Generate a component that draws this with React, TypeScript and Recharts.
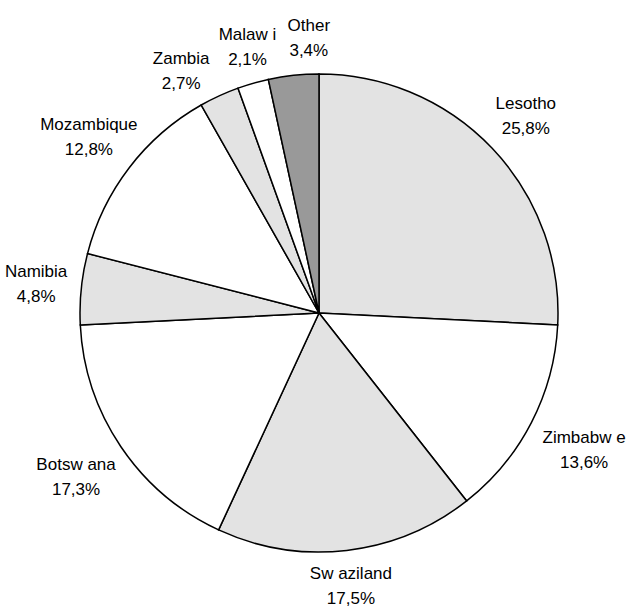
import { PieChart, Pie, Cell } from "recharts"

const countries = ["Lesotho", "Zimbabw e", "Sw aziland", "Botsw ana", "Namibia", "Mozambique", "Zambia", "Malaw i", "Other"]
const shares = [25.8, 13.6, 17.5, 17.3, 4.8, 12.8, 2.7, 2.1, 3.4]
const fills = ["#e3e3e3", "#ffffff", "#e3e3e3", "#ffffff", "#e3e3e3", "#ffffff", "#e3e3e3", "#ffffff", "#999999"]

const data = countries.map((name, i) => ({ name, value: shares[i] }))

const RAD = Math.PI / 180
const FONT = 17
const CX = 319
const CY = 313
const R = 239
const HALF_H = 23
const GAP = 6

const pct = (v: number) => v.toFixed(1).replace(".", ",") + "%"

// place label boxes just outside each slice, then nudge neighbours apart
function layoutLabels() {
  const total = shares.reduce((a, b) => a + b, 0)
  let acc = 0
  const items = shares.map((v, i) => {
    const theta = ((acc + v / 2) / total) * 360
    acc += v
    const hw = (Math.max(countries[i].length, pct(v).length) * FONT * 0.54) / 2
    return { theta, hw }
  })
  const place = (it: { theta: number; hw: number }) => {
    const dx = Math.sin(it.theta * RAD)
    const dy = -Math.cos(it.theta * RAD)
    const edge = Math.min(it.hw / Math.max(Math.abs(dx), 1e-6), HALF_H / Math.max(Math.abs(dy), 1e-6))
    const r = R + 13 + edge
    return { x: CX + r * dx, y: CY + r * dy, hw: it.hw }
  }
  for (let k = 0; k < 400; k++) {
    let moved = false
    for (let i = 0; i < items.length - 1; i++) {
      const a = place(items[i])
      const b = place(items[i + 1])
      if (Math.abs(a.x - b.x) < a.hw + b.hw + GAP && Math.abs(a.y - b.y) < 2 * HALF_H) {
        items[i].theta -= 0.25
        items[i + 1].theta += 0.25
        moved = true
      }
    }
    if (!moved) break
  }
  return items.map(place)
}

const labelPos = layoutLabels()

function renderLabel(props: any) {
  const { index, name, value } = props
  const { x, y } = labelPos[index]
  return (
    <text x={x} y={y} textAnchor="middle" fontSize={FONT} fill="#000" fontFamily="'Liberation Sans', Arial, sans-serif">
      <tspan x={x} dy={-7}>{name}</tspan>
      <tspan x={x} dy={25}>{pct(value)}</tspan>
    </text>
  )
}

export default function App() {
  return (
    <div style={{ position: "absolute", left: 0, top: 0, background: "#fff" }}>
      <PieChart width={634} height={609}>
        <Pie
          data={data}
          dataKey="value"
          nameKey="name"
          cx={CX - 5}
          cy={CY - 5}
          outerRadius={R}
          startAngle={90}
          endAngle={-270}
          stroke="#000"
          strokeWidth={1.5}
          label={renderLabel}
          labelLine={false}
          isAnimationActive={false}
        >
          {data.map((_, i) => (
            <Cell key={i} fill={fills[i]} />
          ))}
        </Pie>
      </PieChart>
    </div>
  )
}
